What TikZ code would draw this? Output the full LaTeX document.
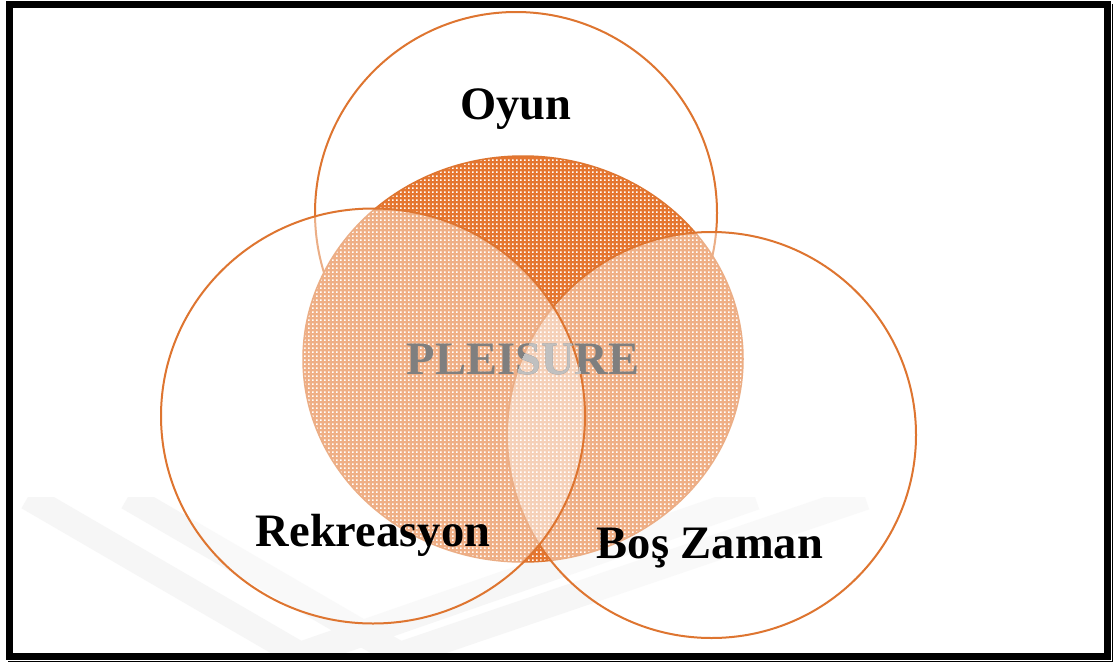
\documentclass[tikz,border=0pt]{standalone}
\usepackage{fontspec}
\setmainfont{Liberation Serif}
\usetikzlibrary{patterns.meta}
\definecolor{ring}{RGB}{222,117,48}
\definecolor{core}{RGB}{229,118,48}
\definecolor{wm}{RGB}{246,246,246}
\definecolor{txtgray}{RGB}{127,127,127}
\definecolor{txtlight}{RGB}{192,192,192}
\tikzdeclarepattern{
  name=wdots,
  type=uncolored,
  bounding box={(0pt,0pt) and (4pt,4pt)},
  tile size={(4pt,4pt)},
  code={\pgfpathrectangle{\pgfpointorigin}{\pgfpoint{2pt}{2pt}}\pgfusepath{fill}}
}
\tikzset{
  setring/.style={draw=ring, line width=2},
  veil/.style={fill=white, fill opacity=0.42},
  lbl/.style={font=\fontsize{46.5}{50}\selectfont\bfseries, inner sep=0pt, anchor=base},
  band/.style={draw=wm, line width=26}
}
\begin{document}
\begin{tikzpicture}[x=1pt,y=-1pt]
\useasboundingbox (0,0) rectangle (1115,664);
\fill[white] (0,0) rectangle (1115,664);
% faint watermark
\begin{scope}
  \clip (13,497) rectangle (1104,653);
  \draw[band] (28,497) -- (300,655) -- (755,497);
  \draw[band] (128,497) -- (400,655) -- (865,497);
\end{scope}
% top circle (Oyun)
\filldraw[fill=white, setring] (516,213) circle[radius=201];
% central ellipse (PLEISURE)
\fill[core] (523,359) ellipse[x radius=220, y radius=203];
\fill[pattern=wdots, pattern color=white] (523,359) ellipse[x radius=220, y radius=203];
\draw[ring, line width=1.5] (523,359) ellipse[x radius=220, y radius=203];
% right circle (Bos Zaman)
\filldraw[veil, setring] (711.5,435) ellipse[x radius=204.5, y radius=203];
% left circle (Rekreasyon)
\filldraw[veil, setring] (373,416) ellipse[x radius=212, y radius=207.5];
% labels
\node[lbl] (oyun) at (516,119) {Oyun};
\node[lbl] (rek) at (373,546) {Rekreasyon};
\node[lbl] (bos) at (710,558) {Boş Zaman};
\node[lbl, text=txtgray] (pl) at (523,374) {PLEISURE};
\begin{scope}
  \clip (373,416) ellipse[x radius=212, y radius=207.5];
  \clip (711.5,435) ellipse[x radius=204.5, y radius=203];
  \node[lbl, text=txtlight] (plx) at (523,374) {PLEISURE};
\end{scope}
% frame
\draw[black, line width=7] (9.5,4.5) rectangle (1107,656);
\draw[black, line width=1.5] (8,661.5) -- (1112.5,661.5) -- (1112.5,4);
\end{tikzpicture}
\end{document}
